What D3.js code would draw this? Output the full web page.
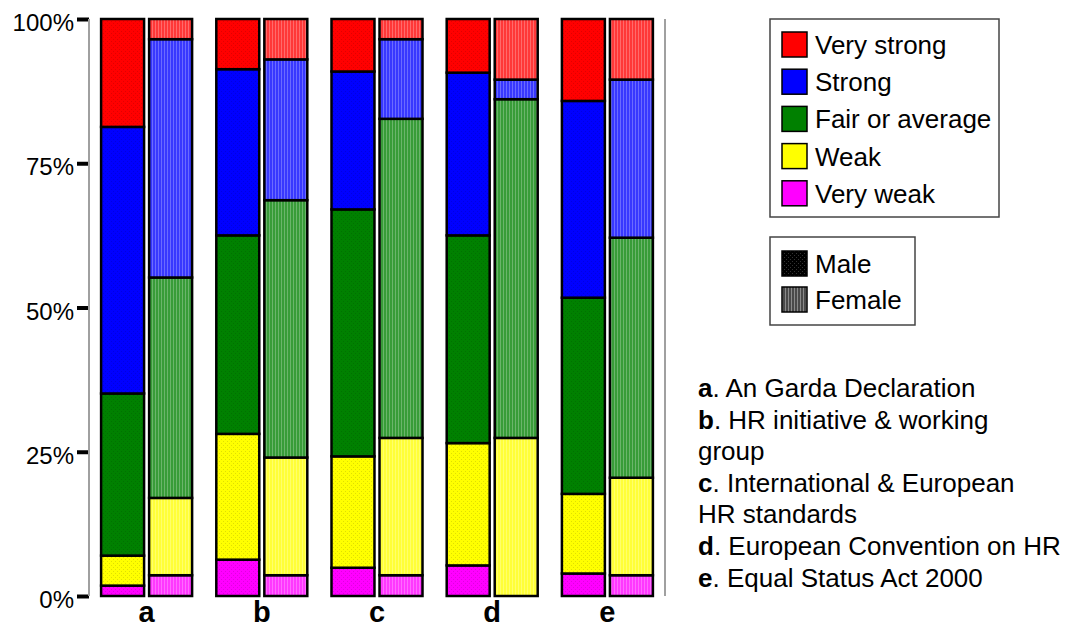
<!DOCTYPE html>
<html>
<head>
<meta charset="utf-8">
<script src="https://cdn.jsdelivr.net/npm/d3@7"></script>
<style>
  body { margin: 0; background: #fff; }
  text { font-family: "Liberation Sans", Arial, sans-serif; fill: #000; }
</style>
</head>
<body>
<div id="chart"></div>
<script>
// categories
const groups = ['a', 'b', 'c', 'd', 'e'];
const genders = ['Male', 'Female'];
const ratings = ['Very weak', 'Weak', 'Fair or average', 'Strong', 'Very strong'];
const ratingColors = ['#ff00ff', '#ffff00', '#008000', '#0000ff', '#ff0000'];
const tickValues = [0, 25, 50, 75, 100];

// percentages per group (a..e), bottom to top
const maleVeryWeak = [1.8, 6.3, 4.9, 5.3, 3.9];
const maleWeak = [5.2, 21.8, 19.3, 21.2, 13.8];
const maleFair = [28.1, 34.4, 42.8, 36.0, 34.0];
const maleStrong = [46.2, 28.8, 23.9, 28.2, 34.1];
const maleVeryStrong = [18.7, 8.7, 9.1, 9.3, 14.2];

const femaleVeryWeak = [3.6, 3.6, 3.6, 0, 3.6];
const femaleWeak = [13.4, 20.4, 23.8, 27.4, 16.9];
const femaleFair = [38.2, 44.6, 55.3, 58.7, 41.6];
const femaleStrong = [41.3, 24.4, 13.8, 3.4, 27.4];
const femaleVeryStrong = [3.5, 7.0, 3.5, 10.5, 10.5];

const footnotes = [
    ['a', '. An Garda Declaration'],
    ['b', '. HR initiative & working'],
    ['', 'group'],
    ['c', '. International & European'],
    ['', 'HR standards'],
    ['d', '. European Convention on HR'],
    ['e', '. Equal Status Act 2000']
];

const width = 1071, height = 627;
const svg = d3.select('#chart').append('svg')
    .attr('width', width)
    .attr('height', height);

// patterns: dotted for male, vertical stripes for female
const defs = svg.append('defs');
function addPatterns(id, color) {
    const dark = d3.interpolateRgb(color, '#000')(0.12);
    const m = defs.append('pattern').attr('id', 'm-' + id)
        .attr('patternUnits', 'userSpaceOnUse').attr('width', 4).attr('height', 4);
    m.append('rect').attr('width', 4).attr('height', 4).attr('fill', color);
    m.append('rect').attr('x', 0).attr('y', 0).attr('width', 1).attr('height', 1).attr('fill', dark);
    m.append('rect').attr('x', 2).attr('y', 2).attr('width', 1).attr('height', 1).attr('fill', dark);

    const base = d3.interpolateRgb(color, '#fff')(0.22);
    const light = d3.interpolateRgb(color, '#fff')(0.42);
    const f = defs.append('pattern').attr('id', 'f-' + id)
        .attr('patternUnits', 'userSpaceOnUse').attr('width', 3).attr('height', 4);
    f.append('rect').attr('width', 3).attr('height', 4).attr('fill', base);
    f.append('rect').attr('x', 0).attr('width', 1).attr('height', 4).attr('fill', light);
}
ratingColors.forEach((c, i) => addPatterns(i, c));
addPatterns('k', '#000000');
defs.select('#m-k').selectAll('rect').filter((d, i) => i > 0).attr('fill', '#333');
defs.select('#f-k rect').attr('fill', '#4a4a4a');
defs.selectAll('#f-k rect').filter((d, i) => i === 1).attr('fill', '#8a8a8a');

const margin = { top: 19, left: 89, right: 406, bottom: 31 };
const plotW = width - margin.left - margin.right;
const plotH = height - margin.top - margin.bottom;

const x = d3.scaleBand().domain(groups).range([0, plotW]).paddingInner(0.21).paddingOuter(0.105);
const xSub = d3.scaleBand().domain(genders).range([0, x.bandwidth()]).paddingInner(0.105);
const y = d3.scaleLinear().domain([0, 100]).range([plotH, 0]);

const g = svg.append('g').attr('transform', `translate(${margin.left},${margin.top})`);

// axis
const yAxis = g.append('g').call(d3.axisLeft(y).tickValues(tickValues).tickSize(12).tickFormat(d => d + '%'));
yAxis.select('.domain').remove();
yAxis.selectAll('.tick line').attr('stroke', '#000').attr('stroke-width', 4);
yAxis.selectAll('.tick text').attr('x', -15).attr('dy', '0.48em')
    .style('font-size', '24px').style('font-family', '"Liberation Sans", Arial, sans-serif');
g.append('line').attr('x1', 0).attr('x2', 0).attr('y1', 0).attr('y2', plotH)
    .attr('stroke', '#a0a0a0').attr('stroke-width', 2);
g.append('line').attr('x1', plotW).attr('x2', plotW).attr('y1', 0).attr('y2', plotH)
    .attr('stroke', '#a0a0a0').attr('stroke-width', 2);

// stacked data
const maleSeries = [maleVeryWeak, maleWeak, maleFair, maleStrong, maleVeryStrong];
const femaleSeries = [femaleVeryWeak, femaleWeak, femaleFair, femaleStrong, femaleVeryStrong];
const rows = [];
groups.forEach((grp, gi) => {
    genders.forEach(gen => {
        const row = { group: grp, gender: gen };
        const src = gen === 'Male' ? maleSeries : femaleSeries;
        ratings.forEach((r, ri) => { row[r] = src[ri][gi]; });
        rows.push(row);
    });
});
const stacked = d3.stack().keys(ratings)(rows);

const segs = [];
stacked.forEach((layer, li) => {
    layer.forEach(d => {
        if (d[1] - d[0] > 0) segs.push({ li, y0: d[0], y1: d[1], group: d.data.group, gender: d.data.gender });
    });
});

g.selectAll('.seg')
    .data(segs)
    .join('rect')
    .attr('class', 'seg')
    .attr('x', d => x(d.group) + xSub(d.gender))
    .attr('width', xSub.bandwidth())
    .attr('y', d => y(d.y1))
    .attr('height', d => y(d.y0) - y(d.y1))
    .attr('fill', d => `url(#${d.gender === 'Male' ? 'm' : 'f'}-${d.li})`)
    .attr('stroke', '#000')
    .attr('stroke-width', 2.5);

// category labels
g.selectAll('.cat')
    .data(groups)
    .join('text')
    .attr('class', 'cat')
    .attr('x', d => x(d) + x.bandwidth() / 2)
    .attr('y', plotH + 26)
    .attr('text-anchor', 'middle')
    .style('font-size', '29px')
    .style('font-weight', 'bold')
    .text(d => d);

// rating legend
const leg = svg.append('g').attr('transform', 'translate(770,19)');
leg.append('rect').attr('width', 229).attr('height', 198)
    .attr('fill', '#fff').attr('stroke', '#444').attr('stroke-width', 1.5);
const legOrder = ratings.map((r, i) => ({ r, i })).reverse();
const legItems = leg.selectAll('.li')
    .data(legOrder)
    .join('g')
    .attr('transform', (d, k) => `translate(12,${13 + k * 37.2})`);
legItems.append('rect').attr('width', 25).attr('height', 25)
    .attr('fill', d => ratingColors[d.i]).attr('stroke', '#000').attr('stroke-width', 1.5);
legItems.append('text').attr('x', 33).attr('y', 22)
    .style('font-size', '26px').text(d => d.r);

// gender legend
const leg2 = svg.append('g').attr('transform', 'translate(770,237)');
leg2.append('rect').attr('width', 145).attr('height', 88)
    .attr('fill', '#fff').attr('stroke', '#444').attr('stroke-width', 1.5);
const leg2Items = leg2.selectAll('.gi')
    .data(genders)
    .join('g')
    .attr('transform', (d, k) => `translate(12,${14 + k * 36})`);
leg2Items.append('rect').attr('width', 25).attr('height', 25)
    .attr('fill', d => d === 'Male' ? 'url(#m-k)' : 'url(#f-k)')
    .attr('stroke', '#000').attr('stroke-width', 1.5);
leg2Items.append('text').attr('x', 33).attr('y', 22)
    .style('font-size', '26px').text(d => d);

// footnotes
const notes = svg.append('g').attr('transform', 'translate(698,397)');
const noteText = notes.selectAll('text')
    .data(footnotes)
    .join('text')
    .attr('y', (d, i) => i * 31.6)
    .style('font-size', '26px');
noteText.append('tspan').style('font-weight', 'bold').text(d => d[0]);
noteText.append('tspan').text(d => d[1]);
</script>
</body>
</html>
